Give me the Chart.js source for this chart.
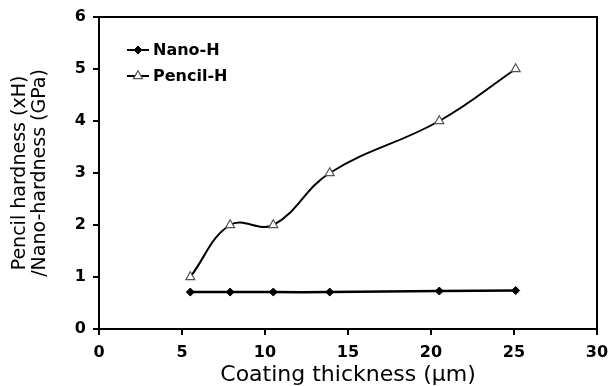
<!DOCTYPE html>
<html>
<head>
<meta charset="utf-8">
<script src="https://cdn.jsdelivr.net/npm/chart.js@4/dist/chart.umd.min.js"></script>
<style>
html,body{margin:0;padding:0;background:#fff;}
canvas{display:block;}
</style>
</head>
<body>
<canvas id="c" width="609" height="386" style="width:609px;height:386px"></canvas>
<script>
// Data
const thickness = [5.5, 7.9, 10.5, 13.9, 20.5, 25.1];      // Coating thickness (µm)
const nanoH = [0.71, 0.71, 0.71, 0.71, 0.73, 0.74];          // Nano-hardness (GPa)
const pencilH = [1, 2, 2, 3, 4, 5];                          // Pencil hardness (xH)
const seriesLabels = ['Nano-H', 'Pencil-H'];
const xTitle = 'Coating thickness (µm)';
const yTitle = ['Pencil hardness (xH)', '/Nano-hardness (GPa)'];
const xRange = [0, 30, 5];
const yRange = [0, 6, 1];

const FONT = '"DejaVu Sans", sans-serif';

const toPts = (xs, ys) => xs.map((x, i) => ({x: x, y: ys[i]}));

const framePlugin = {
  id: 'frame',
  afterDraw(chart) {
    const {ctx, chartArea: a} = chart;
    ctx.save();
    ctx.strokeStyle = '#000';
    ctx.lineWidth = 2;
    ctx.beginPath();
    ctx.moveTo(a.left, a.top);
    ctx.lineTo(a.right, a.top);
    ctx.lineTo(a.right, a.bottom);
    ctx.stroke();
    ctx.restore();
  }
};

const legendPlugin = {
  id: 'innerLegend',
  afterDraw(chart) {
    const ctx = chart.ctx;
    const items = [
      {y: 50, ds: chart.data.datasets[0]},
      {y: 76, ds: chart.data.datasets[1]}
    ];
    ctx.save();
    items.forEach(it => {
      ctx.strokeStyle = '#000';
      ctx.lineWidth = 2;
      ctx.beginPath();
      ctx.moveTo(127, it.y);
      ctx.lineTo(149, it.y);
      ctx.stroke();
      ctx.fillStyle = it.ds.pointBackgroundColor;
      ctx.strokeStyle = it.ds.pointBorderColor;
      ctx.lineWidth = it.ds.pointBorderWidth;
      Chart.helpers.drawPoint(ctx, {pointStyle: it.ds.pointStyle, rotation: 0, borderWidth: it.ds.pointBorderWidth, radius: it.ds.pointRadius}, 138, it.y);
      ctx.fillStyle = '#000';
      ctx.font = 'bold 16px ' + FONT;
      ctx.textBaseline = 'middle';
      ctx.textAlign = 'left';
      ctx.fillText(it.ds.label, 153, it.y + 1);
    });
    ctx.restore();
  }
};

new Chart(document.getElementById('c'), {
  type: 'line',
  data: {
    datasets: [
      {
        label: seriesLabels[0],
        data: toPts(thickness, nanoH),
        borderColor: '#000',
        borderWidth: 2.5,
        pointStyle: 'rectRot',
        pointRadius: 4,
        pointBackgroundColor: '#000',
        pointBorderColor: '#000',
        pointBorderWidth: 1,
        tension: 0.4,
        fill: false
      },
      {
        label: seriesLabels[1],
        data: toPts(thickness, pencilH),
        borderColor: '#000',
        borderWidth: 2,
        pointStyle: 'triangle',
        pointRadius: 5.2,
        pointBackgroundColor: '#fff',
        pointBorderColor: '#555',
        pointBorderWidth: 1.2,
        tension: 0.4,
        fill: false
      }
    ]
  },
  options: {
    responsive: false,
    devicePixelRatio: 1,
    animation: false,
    layout: {padding: {top: 17, right: 12, left: 0, bottom: 0}},
    plugins: {legend: {display: false}, tooltip: {enabled: false}},
    scales: {
      x: {
        type: 'linear',
        min: xRange[0], max: xRange[1],
        ticks: {stepSize: xRange[2], color: '#000', padding: 8, font: {family: FONT, size: 16, weight: 'bold'}},
        grid: {drawOnChartArea: false, drawTicks: true, tickLength: 6, color: '#000', lineWidth: 2},
        border: {display: true, color: '#000', width: 2},
        title: {display: true, text: xTitle, color: '#000', padding: {top: 0, bottom: 0}, font: {family: FONT, size: 22, lineHeight: 1}},
        afterFit(s) { s.height = 57; s.paddingLeft = 0; s.paddingRight = 0; }
      },
      y: {
        type: 'linear',
        min: yRange[0], max: yRange[1],
        ticks: {stepSize: yRange[2], color: '#000', padding: 7, font: {family: FONT, size: 16, weight: 'bold'}},
        grid: {drawOnChartArea: false, drawTicks: true, tickLength: 6, color: '#000', lineWidth: 2},
        border: {display: true, color: '#000', width: 2},
        title: {display: true, text: yTitle, color: '#000', padding: {top: 10, bottom: 0}, font: {family: FONT, size: 19, lineHeight: 1.06}},
        afterFit(s) { s.width = 99; s.paddingTop = 0; s.paddingBottom = 0; }
      }
    }
  },
  plugins: [framePlugin, legendPlugin]
});
</script>
</body>
</html>
